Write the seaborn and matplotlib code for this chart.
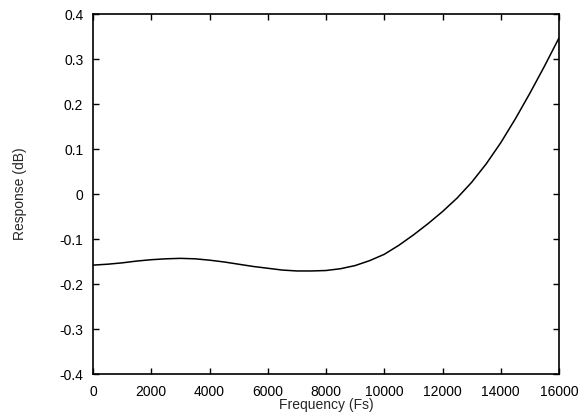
import matplotlib
matplotlib.use("Agg")
import matplotlib.pyplot as plt
import seaborn as sns
import pandas as pd

freq = [0, 500, 1000, 1500, 2000, 2500, 3000, 3500, 4000, 4500, 5000, 5500,
        6000, 6500, 7000, 7500, 8000, 8500, 9000, 9500, 10000, 10500, 11000,
        11500, 12000, 12500, 13000, 13500, 14000, 14500, 15000, 15500, 16000]
response = [-0.158, -0.156, -0.153, -0.149, -0.146, -0.144, -0.143, -0.144,
            -0.147, -0.151, -0.156, -0.161, -0.165, -0.169, -0.171, -0.171,
            -0.170, -0.166, -0.159, -0.148, -0.134, -0.114, -0.091, -0.066,
            -0.039, -0.009, 0.026, 0.067, 0.114, 0.167, 0.224, 0.284, 0.347]
xticks = [0, 2000, 4000, 6000, 8000, 10000, 12000, 14000, 16000]
yticks = [-0.4, -0.3, -0.2, -0.1, 0, 0.1, 0.2, 0.3, 0.4]
ytick_labels = ["-0.4", "-0.3", "-0.2", "-0.1", "0", "0.1", "0.2", "0.3", "0.4"]

sns.set_style("ticks")
plt.rcParams['font.family'] = ['Liberation Sans', 'DejaVu Sans']

df = pd.DataFrame({"Frequency (Fs)": freq, "Response (dB)": response})

fig = plt.figure(figsize=(5.85, 4.12), dpi=100)
ax = fig.add_axes([0.159, 0.0922, 0.7966, 0.8738])
sns.lineplot(data=df, x="Frequency (Fs)", y="Response (dB)", ax=ax,
             color="black", linewidth=1.1)

ax.set_xlim(0, 16000)
ax.set_ylim(-0.4, 0.4)
ax.set_xticks(xticks)
ax.set_xticklabels([str(t) for t in xticks])
ax.set_yticks(yticks)
ax.set_yticklabels(ytick_labels)
ax.tick_params(direction="in", length=4, width=1, top=True, right=True,
               labelsize=10, colors="black")
ax.tick_params(axis="x", pad=8)
ax.tick_params(axis="y", pad=7)
for s in ax.spines.values():
    s.set_visible(True)
    s.set_color("black")
    s.set_linewidth(1.2)
ax.set_xlabel("Frequency (Fs)", fontsize=10, labelpad=-1)
ax.set_ylabel("Response (dB)", fontsize=10)
ax.yaxis.set_label_coords(-0.1416, 0.5)
ax.grid(False)

fig.savefig("out.png", dpi=100)
